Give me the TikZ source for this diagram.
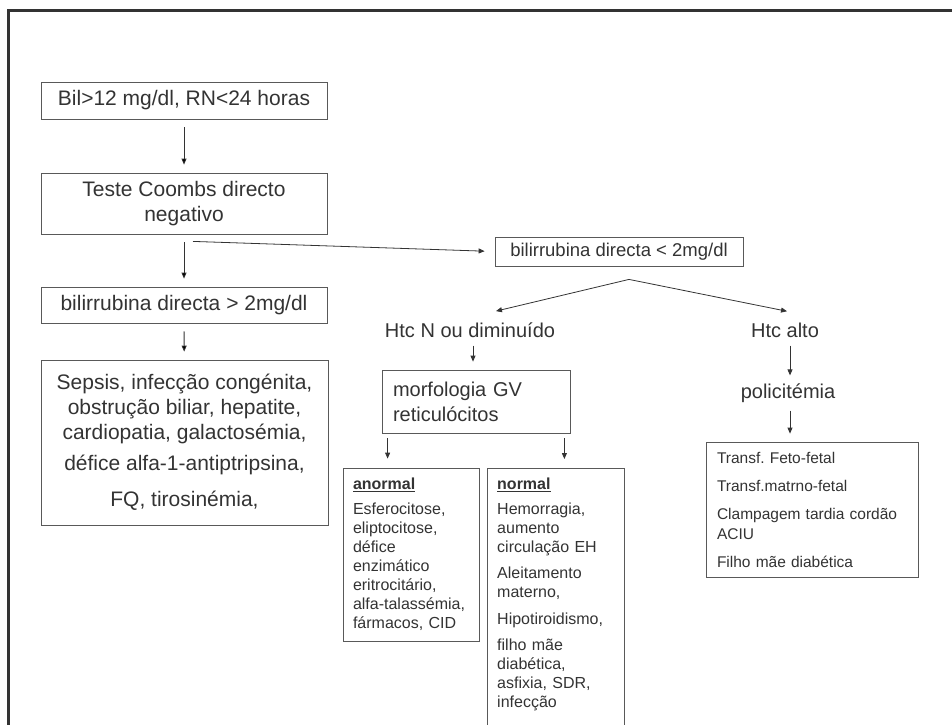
\documentclass[tikz,border=0pt]{standalone}
\usepackage{fontspec}
\setmainfont{Liberation Sans}
\frenchspacing
\usetikzlibrary{arrows.meta,positioning}
\definecolor{ink}{HTML}{333333}
\definecolor{rim}{HTML}{595959}
\tikzset{>={Triangle[length=6pt,width=5pt]},shorten >=1pt}

\begin{document}
\begin{tikzpicture}[x=1pt,y=-1pt,>={Triangle[length=6pt,width=5pt]}]
  \tikzstyle{every node}=[text=ink,font=\fontsize{21}{25}\selectfont]
  \tikzstyle{box}=[draw=rim,line width=0.8pt,inner sep=0pt,align=center]
  \tikzstyle{lbox}=[draw=rim,line width=0.8pt,inner xsep=11pt,inner ysep=0pt,align=left]
  \tikzstyle{plain}=[inner sep=0pt]
  \tikzstyle{flow}=[->,draw=ink,line width=0.8pt,shorten <=8pt,shorten >=8pt]
  \useasboundingbox (0,0) rectangle (952,724);
  \clip (0,0) rectangle (952,724);
  \draw[line width=3pt,draw=ink] (8,740) -- (8,10.5) -- (960,10.5);

  \node[box,minimum width=286pt,minimum height=37pt] (bil) at (184,100.5) {Bil>12 mg/dl, RN<24 horas};
  \node[box,minimum width=286pt,minimum height=61pt] (coombs) at (184,203.5) {Teste Coombs directo\\negativo};
  \node[box,minimum width=286pt,minimum height=36pt] (bdgt) at (184,305) {bilirrubina directa > 2mg/dl};
  \node[box,minimum width=287pt,minimum height=165pt] (causes) at (184.5,442.5)
    {Sepsis, infecção congénita,\\obstrução biliar, hepatite,\\cardiopatia, galactosémia,\\[6pt]
     défice alfa-1-antiptripsina,\\[11pt]FQ, tirosinémia,};

  \node[box,minimum width=248pt,minimum height=29pt,font=\fontsize{18.5}{22}\selectfont] (bdlt) at (619,251.5) {bilirrubina directa < 2mg/dl};
  \node[plain,font=\fontsize{20}{24}\selectfont] (htcn) at (470,330) {Htc N ou diminuído};
  \node[plain,font=\fontsize{20}{24}\selectfont] (htcalto) at (785,330) {Htc alto};
  \node[plain,font=\fontsize{20}{24}\selectfont] (polic) at (788,393) {policitémia};

  \node[lbox,minimum width=188pt,minimum height=63pt,text width=166pt,font=\fontsize{20}{25}\selectfont] (morfo) at (476,401.5)
    {morfologia GV\\reticulócitos};
  \node[lbox,minimum width=212pt,minimum height=135pt,text width=190pt,font=\fontsize{15.5}{20}\selectfont] (transf) at (812,509.5)
    {Transf. Feto-fetal\\[8pt]Transf.matrno-fetal\\[8pt]Clampagem tardia cordão\\ACIU\\[8pt]Filho mãe diabética};
  \node[lbox,inner xsep=10pt,minimum width=136pt,minimum height=173pt,text width=116pt,font=\fontsize{16}{19}\selectfont] (anormal) at (411,554.5)
    {\underline{\textbf{anormal}}\\[6pt]Esferocitose,\\eliptocitose,\\défice\\enzimático\\eritrocitário,\\alfa-talassémia,\\fármacos, CID};
  \node[plain,anchor=north west,inner xsep=10pt,inner ysep=10pt,text width=117pt,align=left,font=\fontsize{16}{19}\selectfont] (normal) at (487,468)
    {\underline{\textbf{normal}}\\[6pt]Hemorragia,\\aumento\\circulação EH\\[7pt]Aleitamento\\materno,\\[8pt]Hipotiroidismo,\\[7pt]filho mãe\\diabética,\\asfixia, SDR,\\infecção};
  \draw[draw=rim,line width=0.8pt] (normal.north west) rectangle ++(137,300);

  \coordinate (split) at ([xshift=9pt,yshift=-7pt]coombs.south);
  \coordinate (fork) at ([xshift=10pt,yshift=-13pt]bdlt.south);

  \path[flow]
    (bil) edge (coombs)
    (coombs) edge (bdgt)
    (bdgt) edge (causes);
  \draw[->,draw=ink,line width=0.8pt,shorten >=10pt] (split) -- (bdlt.west);
  \draw[->,draw=ink,line width=0.8pt] (fork) -- ([xshift=25pt,yshift=11pt]htcn.north);
  \draw[->,draw=ink,line width=0.8pt] (fork) -- ([xshift=3pt,yshift=11pt]htcalto.north);
  \draw[flow] ([xshift=3pt]htcn.south) -- ([xshift=3pt]htcn.south |- morfo.north);
  \draw[flow] ([xshift=5pt]htcalto.south) -- ([xshift=5pt]htcalto.south |- polic.north);
  \draw[flow] ([xshift=2pt]polic.south) -- ([xshift=2pt]polic.south |- transf.north);
  \draw[->,draw=ink,line width=0.8pt,shorten <=5pt,shorten >=9pt] ([xshift=6pt]morfo.south west) -- ([xshift=6pt]morfo.south west |- anormal.north);
  \draw[->,draw=ink,line width=0.8pt,shorten <=5pt,shorten >=9pt] ([xshift=-6pt]morfo.south east) -- ([xshift=-6pt]morfo.south east |- normal.north);
\end{tikzpicture}
\end{document}
